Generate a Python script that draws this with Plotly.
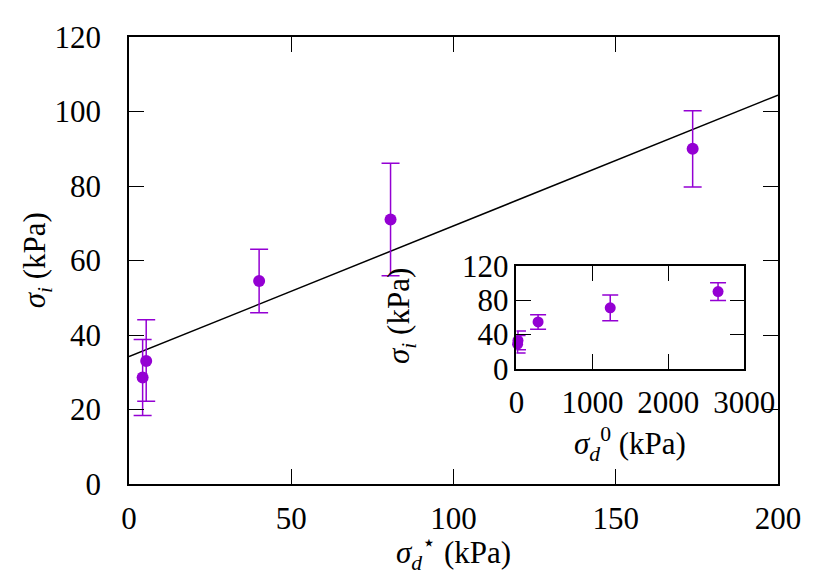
import plotly.graph_objects as go

# data
sigma_star = [4.2, 5.3, 40.1, 80.6, 173.7]      # sigma_d* (kPa)
sigma_zero = [15, 20, 285, 1235, 2655]          # sigma_d^0 (kPa)
sigma_i = [28.6, 33.0, 54.5, 71.0, 90.0]
sigma_i_hi = [38.8, 44.1, 63.0, 86.1, 100.2]
sigma_i_lo = [18.4, 22.2, 46.0, 55.9, 79.7]

fit_x = [0, 200]
fit_y = [34.2, 104.4]

purple = '#9400D3'
font = dict(family='"Liberation Serif", "Times New Roman", "DejaVu Serif", serif',
            size=31, color='black')

err_plus = [h - v for h, v in zip(sigma_i_hi, sigma_i)]
err_minus = [v - l for v, l in zip(sigma_i, sigma_i_lo)]

fig = go.Figure()

# main panel
fig.add_trace(go.Scatter(x=fit_x, y=fit_y, mode='lines',
                         line=dict(color='black', width=1.5), showlegend=False))
fig.add_trace(go.Scatter(
    x=sigma_star, y=sigma_i, mode='markers',
    marker=dict(color=purple, size=12),
    error_y=dict(type='data', symmetric=False, array=err_plus, arrayminus=err_minus,
                 color=purple, thickness=1.5, width=9),
    cliponaxis=False, showlegend=False))

# inset
fig.add_trace(go.Scatter(
    x=sigma_zero, y=sigma_i, mode='markers', xaxis='x2', yaxis='y2',
    marker=dict(color=purple, size=11),
    error_y=dict(type='data', symmetric=False, array=err_plus, arrayminus=err_minus,
                 color=purple, thickness=1.5, width=8),
    cliponaxis=False, showlegend=False))

axis_common = dict(showline=True, linecolor='black', linewidth=1.5, mirror='ticks',
                   ticks='inside', ticklen=15, tickwidth=1.2, tickcolor='black',
                   showgrid=False, zeroline=False, tickfont=font)

# the page body adds an 8px offset, so the figure is sized to fill the rest
fig.update_layout(
    width=821, height=578,
    margin=dict(l=121, r=51, t=27, b=102),
    paper_bgcolor='white', plot_bgcolor='white',
    font=font,
    xaxis=dict(range=[0, 200], tickvals=[0, 50, 100, 150, 200], domain=[0, 1],
               ticklabelstandoff=6, **axis_common),
    yaxis=dict(range=[0, 120], tickvals=[0, 20, 40, 60, 80, 100, 120], domain=[0, 1],
               ticklabelstandoff=20, **axis_common),
    xaxis2=dict(range=[0, 3000], tickvals=[0, 1000, 2000, 3000], domain=[0.597, 0.948],
                anchor='y2', ticklabelstandoff=5, **axis_common),
    yaxis2=dict(range=[0, 120], tickvals=[0, 40, 80, 120], domain=[0.258, 0.488],
                anchor='x2', ticklabelstandoff=0, **axis_common),
    annotations=[
        dict(text='<i>σ</i><sub><i>d</i></sub><sup>⋆</sup> (kPa)', xref='paper', yref='paper',
             x=0.5, y=-0.155, xanchor='center', yanchor='middle', showarrow=False, font=font),
        dict(text='<i>σ</i><sub><i>i</i></sub> (kPa)', xref='paper', yref='paper',
             x=-0.142, y=0.5, textangle=-90, xanchor='center', yanchor='middle',
             showarrow=False, font=font),
        dict(text='<i>σ</i><sub><i>d</i></sub><sup>0</sup> (kPa)', xref='paper', yref='paper',
             x=0.772, y=0.09, xanchor='center', yanchor='middle', showarrow=False, font=font),
        dict(text='<i>σ</i><sub><i>i</i></sub> (kPa)', xref='paper', yref='paper',
             x=0.42, y=0.375, textangle=-90, xanchor='center', yanchor='middle',
             showarrow=False, font=font),
    ],
)

fig.write_html("out.html")
